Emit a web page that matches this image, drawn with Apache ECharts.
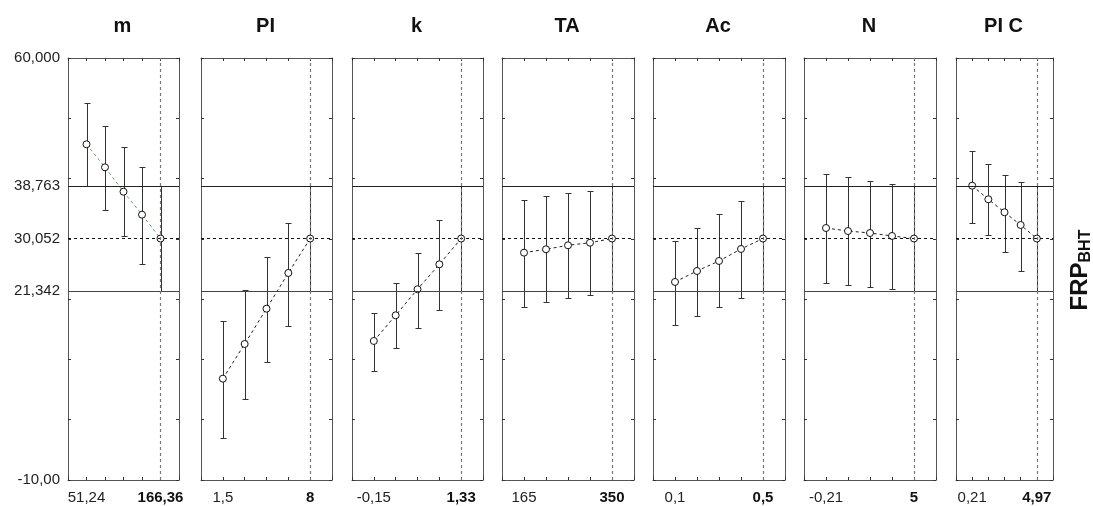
<!DOCTYPE html>
<html>
<head>
<meta charset="utf-8">
<script src="https://cdn.jsdelivr.net/npm/echarts@6/dist/echarts.min.js"></script>
<style>
  html, body { margin: 0; padding: 0; background: #fff; }
  #main { width: 1093px; height: 506px; }
</style>
</head>
<body>
<div id="main"></div>
<script>
// 面板名称和横轴标签
var panelNames = ['m', 'PI', 'k', 'TA', 'Ac', 'N', 'PI C'];
var xFirstLabels = ['51,24', '1,5', '-0,15', '165', '0,1', '-0,21', '0,21'];
var xLastLabels = ['166,36', '8', '1,33', '350', '0,5', '5', '4,97'];

// 纵轴标签
var yLabelValues = [60, 38.763, 30.052, 21.342, -10];
var yLabelTexts = ['60,000', '38,763', '30,052', '21,342', '-10,00'];
var refHigh = 38.763, refMid = 30.052, refLow = 21.342;

// 每个面板的均值 / 下限 / 上限 (5 个点)
var meanM = [45.69, 41.87, 37.82, 34.01, 30.052];
var lowM  = [38.83, 34.79, 30.48, 25.88, 21.342];
var highM = [52.54, 48.77, 45.19, 41.87, 38.763];

var meanPI = [6.81, 12.56, 18.42, 24.34, 30.052];
var lowPI  = [-2.98, 3.39, 9.58, 15.60, 21.342];
var highPI = [16.43, 21.52, 27.04, 32.63, 38.763];

var meanK = [13.06, 17.32, 21.64, 25.78, 30.052];
var lowK  = [8.13, 11.85, 15.17, 18.20, 21.342];
var highK = [17.65, 22.63, 27.71, 33.13, 38.763];

var meanTA = [27.71, 28.27, 28.93, 29.36, 30.052];
var lowTA  = [18.65, 19.48, 20.14, 20.69, 21.342];
var highTA = [36.45, 37.16, 37.56, 37.99, 38.763];

var meanAc = [22.85, 24.67, 26.33, 28.32, 30.052];
var lowAc  = [15.71, 17.21, 18.70, 20.19, 21.342];
var highAc = [29.65, 31.80, 34.13, 36.28, 38.763];

var meanN = [31.80, 31.30, 30.97, 30.48, 30.052];
var lowN  = [22.68, 22.35, 22.02, 21.69, 21.342];
var highN = [40.76, 40.26, 39.60, 39.10, 38.763];

var meanPIC = [38.82, 36.56, 34.41, 32.30, 30.052];
var lowPIC  = [32.68, 30.59, 27.87, 24.72, 21.342];
var highPIC = [44.57, 42.42, 40.64, 39.48, 38.763];

var means = [meanM, meanPI, meanK, meanTA, meanAc, meanN, meanPIC];
var lows = [lowM, lowPI, lowK, lowTA, lowAc, lowN, lowPIC];
var highs = [highM, highPI, highK, highTA, highAc, highN, highPIC];

// 布局 (像素)
var gridLeft = [68, 201, 352, 502, 653, 804, 956];
var gridRight = [179, 332, 483, 634, 785, 936, 1053];
var gridTop = 58, gridHeight = 422;
var baseFont = 'Liberation Sans, Arial, sans-serif';

var myChart = echarts.init(document.getElementById('main'));

var grid = [], xAxis = [], yAxis = [], series = [], title = [];

for (var i = 0; i < panelNames.length; i++) {
    grid.push({
        left: gridLeft[i], top: gridTop,
        width: gridRight[i] - gridLeft[i], height: gridHeight,
        containLabel: false
    });
    // 标题居中 (title 自带 5px padding, 往左挪一点)
    title.push({
        text: panelNames[i],
        left: (gridLeft[i] + gridRight[i]) / 2 - 6,
        top: 11,
        textAlign: 'center',
        textStyle: { fontFamily: baseFont, fontSize: 20, fontWeight: 'bold', color: '#111' }
    });

    var axisLine = { onZero: false, lineStyle: { color: '#555', width: 1 } };
    var tick = { inside: true, length: 3, lineStyle: { color: '#333' } };

    // 下方 x 轴 (带标签)
    (function (first, last) {
        xAxis.push({
            gridIndex: i, type: 'value', position: 'bottom',
            min: -1, max: 5, interval: 1,
            axisLine: axisLine, axisTick: tick, splitLine: { show: false },
            axisLabel: {
                customValues: [0, 4],
                margin: 10,
                fontFamily: baseFont, fontSize: 15, color: '#222',
                formatter: function (v) {
                    return v === 0 ? first : '{b|' + last + '}';
                },
                rich: { b: { fontFamily: baseFont, fontSize: 15, fontWeight: 'bold', color: '#111' } }
            }
        });
    })(xFirstLabels[i], xLastLabels[i]);
    // 上方 x 轴 (只有刻度)
    xAxis.push({
        gridIndex: i, type: 'value', position: 'top',
        min: -1, max: 5, interval: 1,
        axisLine: axisLine, axisTick: tick, splitLine: { show: false },
        axisLabel: { show: false }
    });

    // 左侧 y 轴
    yAxis.push({
        gridIndex: i, type: 'value', position: 'left',
        min: -10, max: 60, interval: 10,
        axisLine: axisLine, axisTick: tick, splitLine: { show: false },
        axisLabel: i === 0 ? {
            customValues: yLabelValues,
            margin: 8,
            fontFamily: baseFont, fontSize: 15, color: '#222',
            formatter: function (v) {
                var idx = yLabelValues.indexOf(v);
                return idx >= 0 ? yLabelTexts[idx] : '';
            }
        } : { show: false }
    });
    // 右侧 y 轴
    yAxis.push({
        gridIndex: i, type: 'value', position: 'right',
        min: -10, max: 60, interval: 10,
        axisLine: axisLine, axisTick: tick, splitLine: { show: false },
        axisLabel: { show: false }
    });

    var barData = [], lineData = [];
    for (var j = 0; j < means[i].length; j++) {
        barData.push([j, lows[i][j], highs[i][j]]);
        lineData.push([j, means[i][j]]);
    }

    // 误差棒 + 参考线
    series.push({
        type: 'custom',
        xAxisIndex: 2 * i, yAxisIndex: 2 * i,
        silent: true,
        z: 2,
        data: barData,
        renderItem: function (params, api) {
            var lo = api.coord([api.value(0), api.value(1)]);
            var hi = api.coord([api.value(0), api.value(2)]);
            var x = Math.round(lo[0]) + 0.5;
            var yl = Math.round(lo[1]) + 0.5, yh = Math.round(hi[1]) + 0.5;
            var st = { stroke: '#333', lineWidth: 1 };
            return {
                type: 'group',
                children: [
                    { type: 'line', shape: { x1: x, y1: yl, x2: x, y2: yh }, style: st },
                    { type: 'line', shape: { x1: x - 3, y1: yl, x2: x + 3, y2: yl }, style: st },
                    { type: 'line', shape: { x1: x - 3, y1: yh, x2: x + 3, y2: yh }, style: st }
                ]
            };
        },
        markLine: {
            silent: true,
            symbol: 'none',
            label: { show: false },
            data: [
                { yAxis: refHigh, lineStyle: { color: '#222', type: 'solid', width: 1 } },
                { yAxis: refLow, lineStyle: { color: '#444', type: 'solid', width: 1 } },
                { yAxis: refMid, lineStyle: { color: '#111', type: [3, 3], width: 1 } },
                { xAxis: 4, lineStyle: { color: '#777', type: [3, 3], width: 1.2 } }
            ]
        }
    });

    // 均值连线
    series.push({
        type: 'line',
        xAxisIndex: 2 * i, yAxisIndex: 2 * i,
        silent: true,
        z: 3,
        data: lineData,
        symbol: 'circle',
        symbolSize: 7,
        itemStyle: { color: '#fff', borderColor: '#111', borderWidth: 1 },
        lineStyle: {
            color: i === 0 ? '#4caf50' : '#222',
            type: [3, 3],
            width: 1
        }
    });
}

option = {
    animation: false,
    backgroundColor: '#fff',
    title: title,
    grid: grid,
    xAxis: xAxis,
    yAxis: yAxis,
    series: series,
    graphic: [{
        type: 'text',
        x: 1080,
        y: 270,
        rotation: Math.PI / 2,
        style: {
            text: '{a|FRP}{b|BHT}',
            align: 'center',
            verticalAlign: 'middle',
            rich: {
                a: { fontFamily: baseFont, fontSize: 24, fontWeight: 'bold', fill: '#111', color: '#111' },
                b: { fontFamily: baseFont, fontSize: 16, fontWeight: 'bold', fill: '#111', color: '#111', padding: [12, 0, 0, 0] }
            }
        }
    }]
};

myChart.setOption(option);
</script>
</body>
</html>
